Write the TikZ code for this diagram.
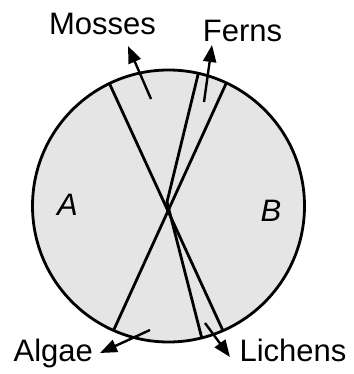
\documentclass[tikz,border=0pt]{standalone}
\usepackage{fontspec}
\setmainfont{Liberation Sans}
\usetikzlibrary{arrows.meta,calc}
\begin{document}
\begin{tikzpicture}[x=1pt,y=-1pt,
  lbl/.style={font=\fontsize{31}{36}\selectfont, inner sep=0pt, anchor=base},
  divline/.style={line width=2.8pt},
  ptr/.style={line width=2.4pt, -{Triangle[length=17pt,width=13pt]}}]
\useasboundingbox (0,0) rectangle (353,374);
\coordinate (C) at (168.5,206);
\coordinate (X) at (167,202);
\fill[black!10] (C) circle (136);
\begin{scope}
  \clip (C) circle (136);
  \draw[divline] ($(X)+(-55.3*2,-117*2)$) -- ($(X)+(55.7*2,124.7*2)$);
  \draw[divline] ($(X)+(54.5*2,-114*2)$) -- ($(X)+(-54.3*2,124.7*2)$);
  \draw[divline] (X) -- ($(X)+(28*2,-115*2)$);
  \draw[divline] (X) -- ($(X)+(33.5*2,131*2)$);
\end{scope}
\draw[divline] (C) circle (136);
% labels
\node[lbl] (mosses) at (102.5,34.3) {Mosses};
\node[lbl] (ferns) at (242.5,41.7) {Ferns};
\node[lbl] (algae) at (53.3,361.7) {Algae};
\node[lbl] (lichens) at (293,361.7) {Lichens};
\node[lbl,font=\fontsize{31}{36}\selectfont\itshape] (A) at (67.5,215) {A};
\node[lbl,font=\fontsize{31}{36}\selectfont\itshape] (B) at (271,221.7) {B};
% arrows
\coordinate (ms) at (151,99);  \coordinate (mt) at (128,46);
\coordinate (fs) at (204,102); \coordinate (ft) at (212,45);
\coordinate (as) at (150,330); \coordinate (at) at (100,353);
\coordinate (ls) at (205,323); \coordinate (lt) at (230,357);
\draw[ptr] (ms) -- (mt);
\draw[ptr] (fs) -- (ft);
\draw[ptr] (as) -- (at);
\draw[ptr] (ls) -- (lt);
\end{tikzpicture}
\end{document}
